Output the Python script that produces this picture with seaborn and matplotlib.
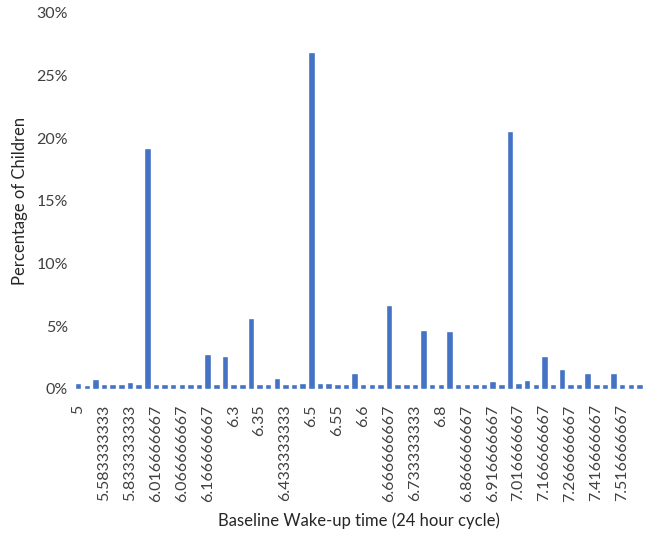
import matplotlib
matplotlib.use("Agg")
import seaborn as sns
import pandas as pd
from matplotlib import pyplot as plt
from matplotlib.ticker import FuncFormatter

# Wake-up time categories (hours) and share of children (%)
wake_times = [
    "5", "5.25", "5.5", "5.583333333", "5.666666667", "5.75",
    "5.833333333", "5.916666667", "6", "6.016666667", "6.033333333", "6.05",
    "6.066666667", "6.1", "6.133333333", "6.166666667", "6.2", "6.25",
    "6.3", "6.316666667", "6.333333333", "6.35", "6.383333333", "6.416666667",
    "6.433333333", "6.45", "6.483333333", "6.5", "6.516666667", "6.533333333",
    "6.55", "6.566666667", "6.583333333", "6.6", "6.616666667", "6.633333333",
    "6.666666667", "6.683333333", "6.7", "6.733333333", "6.75", "6.783333333",
    "6.8", "6.833333333", "6.85", "6.866666667", "6.883333333", "6.9",
    "6.916666667", "6.933333333", "7", "7.016666667", "7.05", "7.083333333",
    "7.166666667", "7.2", "7.25", "7.266666667", "7.3", "7.333333333",
    "7.416666667", "7.45", "7.5", "7.516666667", "7.75", "8",
]
pct_children = [
    0.45, 0.35, 0.8, 0.4, 0.4, 0.4,
    0.55, 0.4, 19.25, 0.4, 0.4, 0.4,
    0.4, 0.4, 0.4, 2.8, 0.4, 2.6,
    0.4, 0.4, 5.7, 0.4, 0.4, 0.9,
    0.4, 0.4, 0.5, 26.9, 0.5, 0.45,
    0.4, 0.4, 1.3, 0.4, 0.4, 0.4,
    6.7, 0.4, 0.4, 0.4, 4.7, 0.4,
    0.4, 4.65, 0.4, 0.4, 0.4, 0.4,
    0.65, 0.4, 20.6, 0.5, 0.75, 0.4,
    2.6, 0.4, 1.6, 0.4, 0.4, 1.3,
    0.4, 0.4, 1.25, 0.4, 0.4, 0.4,
]

df = pd.DataFrame({"wake": wake_times, "pct": pct_children})

sns.set_style("white")
plt.rcParams["font.family"] = ["Lato", "DejaVu Sans"]

fig, ax = plt.subplots(figsize=(6.46, 5.41), dpi=100)
fig.subplots_adjust(left=0.113, right=0.998, top=0.976, bottom=0.281)

sns.barplot(data=df, x="wake", y="pct", color="#4472C4", width=0.75,
            saturation=1, ax=ax)

ax.set_ylim(0, 30)
ax.set_yticks(range(0, 31, 5))
ax.yaxis.set_major_formatter(FuncFormatter(lambda v, _: f"{v:.0f}%"))
ax.set_xlim(-0.6, len(wake_times) - 0.4)

ticks = list(range(0, len(wake_times), 3))
ax.set_xticks(ticks)
ax.set_xticklabels([wake_times[i] for i in ticks], rotation=90)
ax.tick_params(axis="both", length=0, labelsize=11.5, colors="#404040")
ax.tick_params(axis="x", pad=11)

ax.set_xlabel("Baseline Wake-up time (24 hour cycle)", fontsize=12,
              color="#262626", labelpad=8)
ax.set_ylabel("Percentage of Children", fontsize=12, color="#262626",
              labelpad=6)

for s in ax.spines.values():
    s.set_visible(False)

plt.savefig("out.png", dpi=100)
